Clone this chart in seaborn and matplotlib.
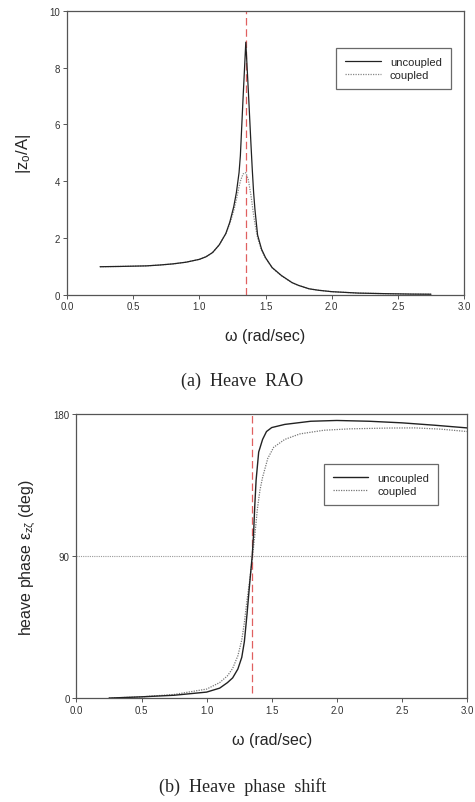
import numpy as np
import pandas as pd
import matplotlib
matplotlib.use("Agg")
import matplotlib.pyplot as plt
import seaborn as sns

# Heave RAO
rao_w = [0.25, 0.4, 0.5, 0.6, 0.7, 0.8, 0.9, 1.0, 1.05, 1.1, 1.15, 1.2, 1.23, 1.26,
         1.28, 1.30, 1.31, 1.33, 1.351, 1.37, 1.39, 1.40, 1.41, 1.42, 1.44, 1.47,
         1.5, 1.55, 1.62, 1.7, 1.75, 1.83, 1.9, 2.0, 2.2, 2.4, 2.6, 2.75]
rao_uncoupled = [0.98, 0.99, 1.0, 1.01, 1.04, 1.08, 1.14, 1.24, 1.33, 1.48, 1.75, 2.15,
                 2.55, 3.1, 3.6, 4.3, 4.9, 6.9, 8.9, 7.2, 5.3, 4.4, 3.6, 3.0, 2.1, 1.6,
                 1.3, 0.95, 0.67, 0.42, 0.32, 0.2, 0.15, 0.1, 0.05, 0.03, 0.015, 0.01]
rao_coupled = [0.98, 0.99, 1.0, 1.01, 1.04, 1.08, 1.14, 1.24, 1.33, 1.48, 1.75, 2.15,
               2.5, 2.95, 3.35, 3.8, 4.0, 4.25, 4.3, 4.05, 3.5, 3.15, 2.8, 2.5, 2.0, 1.55,
               1.28, 0.94, 0.66, 0.42, 0.32, 0.2, 0.15, 0.1, 0.05, 0.03, 0.015, 0.01]

# Heave phase shift
ph_w_unc = [0.25, 0.5, 0.75, 1.0, 1.1, 1.16, 1.2, 1.24, 1.27, 1.29, 1.31, 1.33, 1.35,
            1.36, 1.37, 1.38, 1.40, 1.43, 1.46, 1.5, 1.6, 1.8, 2.0, 2.25, 2.5, 2.75, 3.0]
ph_uncoupled = [0.2, 1.0, 2.0, 4.0, 6.5, 10, 13, 18.6, 26, 36, 53, 72, 90,
                103, 122, 138, 156, 164, 169, 171.5, 173.5, 175.5, 176, 175.5, 174.5, 173, 171.3]
ph_w_cpl = [0.25, 0.5, 0.75, 1.0, 1.1, 1.16, 1.2, 1.24, 1.27, 1.29, 1.31, 1.33, 1.35,
            1.37, 1.39, 1.41, 1.43, 1.47, 1.515, 1.6, 1.717, 1.9, 2.1, 2.4, 2.6, 2.8, 3.0]
ph_coupled = [0.2, 1.0, 2.5, 5.9, 10, 14.3, 19, 27, 37, 48, 62, 74, 88,
              103, 120, 132, 140, 152, 159, 164, 167.5, 169.8, 170.7, 171.2, 171.3, 170.5, 169]

w_res = 1.351

df_rao = pd.DataFrame({"w": rao_w, "uncoupled": rao_uncoupled, "coupled": rao_coupled})
df_unc = pd.DataFrame({"w": ph_w_unc, "phase": ph_uncoupled})
df_cpl = pd.DataFrame({"w": ph_w_cpl, "phase": ph_coupled})

sns.set_style("ticks")
plt.rcParams["font.family"] = ["Liberation Sans", "DejaVu Sans"]
plt.rcParams["mathtext.fontset"] = "custom"
plt.rcParams["mathtext.rm"] = "Liberation Sans"
plt.rcParams["mathtext.it"] = "Liberation Sans"

fig = plt.figure(figsize=(4.75, 8.03), dpi=100)
ax1 = fig.add_axes([0.141, 0.632, 0.836, 0.353])
ax2 = fig.add_axes([0.161, 0.129, 0.822, 0.354])

spine_c = "#555555"
for ax in (ax1, ax2):
    for s in ax.spines.values():
        s.set_color(spine_c)
        s.set_linewidth(0.9)
    ax.tick_params(direction="out", length=3, width=0.7, color=spine_c,
                   labelsize=7, labelcolor="#333333", pad=2)

# (a) RAO
ax1.axvline(w_res, color="#e06060", linestyle=(0, (6, 3)), linewidth=0.9, zorder=1)
sns.lineplot(data=df_rao, x="w", y="uncoupled", ax=ax1, color="#222222",
             linewidth=0.9, label="uncoupled", zorder=3)
sns.lineplot(data=df_rao, x="w", y="coupled", ax=ax1, color="#888888",
             linewidth=0.9, linestyle=(0, (1, 1)), label="coupled", zorder=2)
ax1.set_xlim(0, 3)
ax1.set_ylim(0, 10)
ax1.set_xticks(np.arange(0, 3.01, 0.5))
ax1.set_xticklabels([f"{v:.1f}" for v in np.arange(0, 3.01, 0.5)])
ax1.set_yticks(range(0, 11, 2))
ax1.set_xlabel("ω (rad/sec)", fontsize=11.5, labelpad=12)
ax1.set_ylabel(r"|z$_\mathrm{o}$/A|", fontsize=12, labelpad=12)
leg1 = ax1.legend(loc="upper right", bbox_to_anchor=(0.98, 0.89), fontsize=8,
                  frameon=True, fancybox=False, edgecolor="#444444",
                  handlelength=3.2, borderpad=0.8, labelspacing=0.3)
leg1.get_frame().set_linewidth(0.9)

# (b) phase
ax2.axhline(90, color="#999999", linestyle=(0, (1, 1)), linewidth=0.8, zorder=1)
ax2.axvline(w_res, ymin=0.02, color="#e06060", linestyle=(0, (6, 3)), linewidth=0.9, zorder=1)
sns.lineplot(data=df_unc, x="w", y="phase", ax=ax2, color="#222222",
             linewidth=1.0, label="uncoupled", zorder=3)
sns.lineplot(data=df_cpl, x="w", y="phase", ax=ax2, color="#777777",
             linewidth=0.9, linestyle=(0, (1, 1)), label="coupled", zorder=2)
ax2.set_xlim(0, 3)
ax2.set_ylim(0, 180)
ax2.set_xticks(np.arange(0, 3.01, 0.5))
ax2.set_xticklabels([f"{v:.1f}" for v in np.arange(0, 3.01, 0.5)])
ax2.set_yticks([0, 90, 180])
ax2.set_xlabel("ω (rad/sec)", fontsize=11.5, labelpad=12)
ax2.set_ylabel(r"heave phase $\varepsilon_{z\zeta}$ (deg)", fontsize=11.5, labelpad=12)
leg2 = ax2.legend(loc="upper right", bbox_to_anchor=(0.94, 0.845), fontsize=8,
                  frameon=True, fancybox=False, edgecolor="#444444",
                  handlelength=3.2, borderpad=0.8, labelspacing=0.3)
leg2.get_frame().set_linewidth(0.9)

fig.text(0.51, 1 - 381 / 803, "(a)  Heave  RAO", ha="center", va="center",
         fontsize=13, family=["Liberation Serif", "DejaVu Serif"])
fig.text(0.51, 1 - 787 / 803, "(b)  Heave  phase  shift", ha="center", va="center",
         fontsize=13, family=["Liberation Serif", "DejaVu Serif"])

fig.savefig("out.png", dpi=100)
